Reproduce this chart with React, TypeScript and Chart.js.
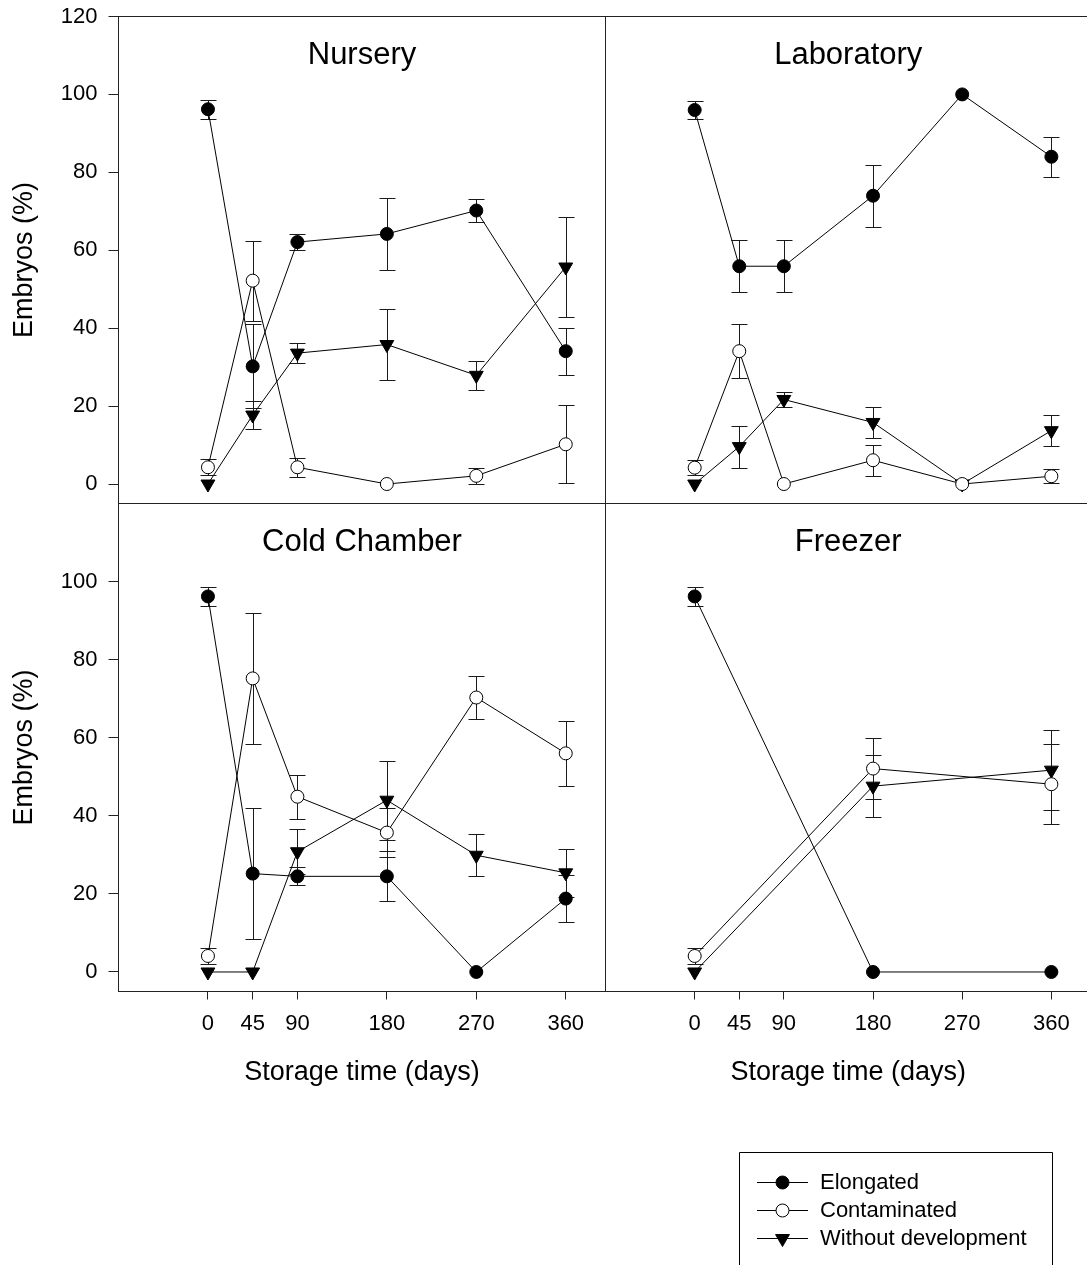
import React, { useEffect, useRef } from 'react';
import { Chart, registerables } from 'chart.js';
import { drawPoint } from 'chart.js/helpers';

Chart.register(...registerables);

// ---------------- DATA ----------------
const days = [0, 45, 90, 180, 270, 360];
const freezerDays = [0, 180, 360];
const xTickValues = [0, 45, 90, 180, 270, 360];
const yTicksTop = [0, 20, 40, 60, 80, 100, 120];
const yTicksBottom = [0, 20, 40, 60, 80, 100];
const seriesNames = ['Elongated', 'Contaminated', 'Without development'];
const panelTitles = ['Nursery', 'Laboratory', 'Cold Chamber', 'Freezer'];

const nurseryElongated = [96.2, 30.2, 62.1, 64.2, 70.2, 34.1];
const nurseryElongatedErr = [2.4, 10.8, 2.0, 9.3, 3.0, 6.0];
const nurseryContaminated = [4.3, 52.2, 4.3, 0, 2.1, 10.2];
const nurseryContaminatedErr = [2.0, 10.3, 2.4, 0, 2.0, 10.0];
const nurseryWithout = [0, 17.7, 33.6, 35.8, 27.9, 55.7];
const nurseryWithoutErr = [0, 3.7, 2.5, 9.2, 3.7, 12.9];

const labElongated = [96.0, 55.9, 55.9, 74.0, 100, 84.0];
const labElongatedErr = [2.4, 6.7, 6.7, 8.0, 0, 5.1];
const labContaminated = [4.2, 34.1, 0, 6.1, 0, 2.0];
const labContaminatedErr = [2.0, 7.0, 0, 4.0, 0, 1.8];
const labWithout = [0, 9.6, 21.7, 15.8, 0, 13.7];
const labWithoutErr = [0, 5.4, 2.0, 3.9, 0, 3.9];

const coldElongated = [96.2, 25.2, 24.5, 24.5, 0, 18.8];
const coldElongatedErr = [2.5, 16.8, 2.3, 6.4, 0, 6.1];
const coldContaminated = [4.1, 75.2, 44.9, 35.7, 70.3, 56.0];
const coldContaminatedErr = [2.1, 16.8, 5.6, 6.2, 5.4, 8.4];
const coldWithout = [0, 0, 30.8, 44.0, 29.9, 25.4];
const coldWithoutErr = [0, 0, 5.8, 10.1, 5.4, 6.2];

const freezerElongated = [96.2, 0, 0];
const freezerElongatedErr = [2.5, 0, 0];
const freezerContaminated = [4.1, 52.1, 48.1];
const freezerContaminatedErr = [2.1, 7.9, 10.3];
const freezerWithout = [0, 47.6, 51.7];
const freezerWithoutErr = [0, 8.0, 10.2];

// ---------------- LAYOUT / STYLE ----------------
const CW = 1100;
const CH = 1265;
const XL = 118.5;
const XM = 605.5;
const XR = 1092.5;
const YT = 16.5;
const YM = 503.5;
const YB = 991.5;
const X_AXIS_H = 97;
const FONT = '"Liberation Sans", Arial, Helvetica, sans-serif';
const INK = '#000';
const CAP = 8;

const markerStyles = [
  { pointStyle: 'circle', radius: 6.5, rotation: 0, bg: '#000' },
  { pointStyle: 'circle', radius: 6.5, rotation: 0, bg: '#fff' },
  { pointStyle: 'triangle', radius: 8, rotation: 180, bg: '#000' },
];

const panels = [
  {
    title: panelTitles[0], x: days, area: { l: XL, t: YT, r: XM, b: YM }, showX: false, showY: true, yTicks: yTicksTop,
    series: [nurseryElongated, nurseryContaminated, nurseryWithout],
    errs: [nurseryElongatedErr, nurseryContaminatedErr, nurseryWithoutErr],
  },
  {
    title: panelTitles[1], x: days, area: { l: XM, t: YT, r: XR, b: YM }, showX: false, showY: false, yTicks: yTicksTop,
    series: [labElongated, labContaminated, labWithout],
    errs: [labElongatedErr, labContaminatedErr, labWithoutErr],
  },
  {
    title: panelTitles[2], x: days, area: { l: XL, t: YM, r: XM, b: YB }, showX: true, showY: true, yTicks: yTicksBottom,
    series: [coldElongated, coldContaminated, coldWithout],
    errs: [coldElongatedErr, coldContaminatedErr, coldWithoutErr],
  },
  {
    title: panelTitles[3], x: freezerDays, area: { l: XM, t: YM, r: XR, b: YB }, showX: true, showY: false, yTicks: yTicksBottom,
    series: [freezerElongated, freezerContaminated, freezerWithout],
    errs: [freezerElongatedErr, freezerContaminatedErr, freezerWithoutErr],
    legend: true,
  },
];

// ---------------- PLUGINS ----------------
const errorBarPlugin = {
  id: 'errorBars',
  beforeDatasetsDraw(chart: any) {
    const ctx = chart.ctx;
    const xs = chart.scales.x;
    const ys = chart.scales.y;
    ctx.save();
    ctx.strokeStyle = '#1a1a1a';
    ctx.lineWidth = 1;
    chart.data.datasets.forEach((ds: any) => {
      const errs = ds.errors;
      if (!errs) return;
      ds.data.forEach((pt: any, i: number) => {
        const e = errs[i];
        if (!e) return;
        const x = Math.round(xs.getPixelForValue(pt.x)) + 0.5;
        const y1 = Math.round(ys.getPixelForValue(pt.y + e)) + 0.5;
        const y2 = Math.round(ys.getPixelForValue(pt.y - e)) + 0.5;
        ctx.beginPath();
        ctx.moveTo(x, y1);
        ctx.lineTo(x, y2);
        ctx.moveTo(x - CAP, y1);
        ctx.lineTo(x + CAP, y1);
        ctx.moveTo(x - CAP, y2);
        ctx.lineTo(x + CAP, y2);
        ctx.stroke();
      });
    });
    ctx.restore();
  },
};

const framePlugin = {
  id: 'panelFrame',
  afterDatasetsDraw(chart: any) {
    const { ctx, chartArea } = chart;
    const title = chart.options.plugins.panelFrame?.title;
    ctx.save();
    ctx.strokeStyle = '#222';
    ctx.lineWidth = 1;
    ctx.strokeRect(chartArea.left, chartArea.top, chartArea.right - chartArea.left, chartArea.bottom - chartArea.top);
    if (title) {
      ctx.fillStyle = INK;
      ctx.font = `31px ${FONT}`;
      ctx.textAlign = 'center';
      ctx.textBaseline = 'alphabetic';
      ctx.fillText(title, (chartArea.left + chartArea.right) / 2, chartArea.top + 47);
    }
    ctx.restore();
  },
};

const legendPlugin = {
  id: 'boxLegend',
  afterDraw(chart: any) {
    const ctx = chart.ctx;
    const left = 739.5;
    const right = 1052.5;
    const top = 1152.5;
    const bottom = 1275;
    const rows = [1182, 1210, 1238];
    ctx.save();
    ctx.strokeStyle = '#000';
    ctx.lineWidth = 1;
    ctx.beginPath();
    ctx.moveTo(left, bottom);
    ctx.lineTo(left, top);
    ctx.lineTo(right, top);
    ctx.lineTo(right, bottom);
    ctx.stroke();
    seriesNames.forEach((name, i) => {
      const y = rows[i] + 0.5;
      ctx.strokeStyle = '#000';
      ctx.lineWidth = 1;
      ctx.beginPath();
      ctx.moveTo(757, y);
      ctx.lineTo(808, y);
      ctx.stroke();
      const m = markerStyles[i];
      ctx.fillStyle = m.bg;
      ctx.strokeStyle = '#000';
      ctx.lineWidth = 1;
      drawPoint(ctx, { pointStyle: m.pointStyle as any, radius: m.radius, rotation: m.rotation, borderWidth: 1 } as any, 782.5, y);
      ctx.fillStyle = INK;
      ctx.font = `22px ${FONT}`;
      ctx.textAlign = 'left';
      ctx.textBaseline = 'middle';
      ctx.fillText(name, 820, y);
    });
    ctx.restore();
  },
};

function buildConfig(p: any): any {
  const datasets = p.series.map((vals: number[], si: number) => {
    const m = markerStyles[si];
    return {
      label: seriesNames[si],
      data: p.x.map((d: number, i: number) => ({ x: d, y: vals[i] })),
      errors: p.errs[si],
      borderColor: INK,
      borderWidth: 1,
      backgroundColor: m.bg,
      pointStyle: m.pointStyle,
      pointRadius: m.radius,
      pointRotation: m.rotation,
      pointBackgroundColor: m.bg,
      pointBorderColor: INK,
      pointBorderWidth: 1,
      pointHoverRadius: m.radius,
      tension: 0,
      fill: false,
      clip: false,
    };
  });
  const padLeft = p.showY ? 0 : p.area.l;
  const padBottom = CH - p.area.b - (p.showX ? X_AXIS_H : 0);
  return {
    type: 'line',
    data: { datasets },
    plugins: p.legend ? [errorBarPlugin, framePlugin, legendPlugin] : [errorBarPlugin, framePlugin],
    options: {
      responsive: false,
      maintainAspectRatio: false,
      animation: false,
      devicePixelRatio: 1,
      events: [],
      layout: { padding: { left: padLeft, top: p.area.t, right: CW - p.area.r, bottom: padBottom } },
      plugins: {
        legend: { display: false },
        tooltip: { enabled: false },
        title: { display: false },
        panelFrame: { title: p.title },
      },
      scales: {
        x: {
          type: 'linear',
          min: -90,
          max: 400,
          display: p.showX,
          afterBuildTicks: (s: any) => {
            s.ticks = xTickValues.map((v) => ({ value: v }));
          },
          afterFit: (s: any) => {
            if (p.showX) s.height = X_AXIS_H;
            s.paddingLeft = 0;
            s.paddingRight = 0;
            s.paddingTop = 0;
            s.paddingBottom = 0;
          },
          grid: { drawOnChartArea: false, drawTicks: true, tickLength: 8, color: '#222', lineWidth: 1 },
          border: { display: false },
          ticks: {
            color: INK,
            font: { size: 22, family: FONT },
            padding: 11,
            autoSkip: false,
            maxRotation: 0,
            minRotation: 0,
            callback: (v: any) => String(v),
          },
          title: {
            display: true,
            text: 'Storage time (days)',
            color: INK,
            font: { size: 27, family: FONT },
            padding: { top: 0, bottom: 0 },
          },
        },
        y: {
          type: 'linear',
          min: -5,
          max: 120,
          display: p.showY,
          afterBuildTicks: (s: any) => {
            s.ticks = p.yTicks.map((v: number) => ({ value: v }));
          },
          afterFit: (s: any) => {
            if (p.showY) s.width = p.area.l;
            s.paddingLeft = 0;
            s.paddingRight = 0;
            s.paddingTop = 0;
            s.paddingBottom = 0;
          },
          grid: { drawOnChartArea: false, drawTicks: true, tickLength: 10, color: '#222', lineWidth: 1 },
          border: { display: false },
          ticks: {
            color: INK,
            font: { size: 22, family: FONT },
            padding: 11,
            callback: (v: any) => String(v),
          },
          title: {
            display: true,
            text: 'Embryos (%)',
            color: INK,
            font: { size: 27, family: FONT },
            padding: { top: 8, bottom: 0 },
          },
        },
      },
    },
  };
}

export default function App() {
  const refs = useRef<(HTMLCanvasElement | null)[]>([]);

  useEffect(() => {
    Chart.defaults.font.family = FONT;
    Chart.defaults.color = INK;
    const charts = panels.map((p, i) => {
      const c = refs.current[i];
      if (!c) return null;
      return new Chart(c, buildConfig(p));
    });
    return () => {
      charts.forEach((ch) => ch && ch.destroy());
    };
  }, []);

  return (
    <div
      style={{
        position: 'absolute',
        left: 0,
        top: 0,
        width: 1087,
        height: 1265,
        overflow: 'hidden',
        background: '#fff',
      }}
    >
      {panels.map((p, i) => (
        <canvas
          key={p.title}
          ref={(el) => {
            refs.current[i] = el;
          }}
          width={CW}
          height={CH}
          style={{ position: 'absolute', left: 0, top: 0, width: CW, height: CH }}
        />
      ))}
    </div>
  );
}
